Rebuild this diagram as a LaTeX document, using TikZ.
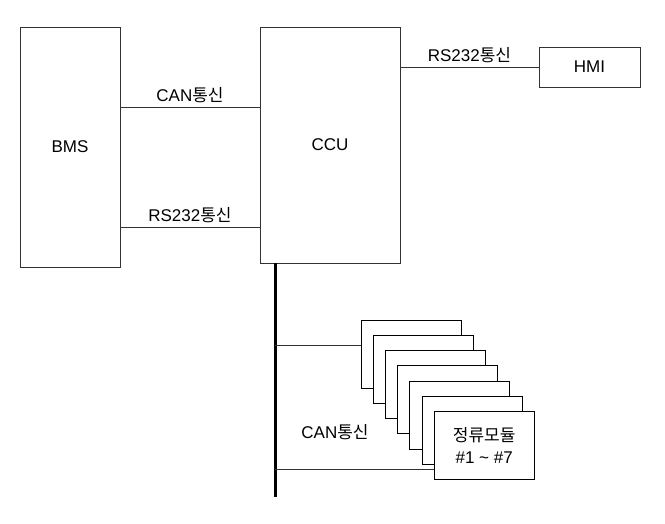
\documentclass[tikz,border=0pt]{standalone}
\usepackage{fontspec}
\setmainfont{Liberation Sans}
\newfontfamily\krfont{Noto Sans CJK KR}
\usetikzlibrary{positioning}

\begin{document}
\begin{tikzpicture}[
            x=1pt, y=-1pt,
            every node/.style={font=\fontsize{17}{22}\selectfont},
            box/.style={rectangle, draw=black!80, line width=0.8pt, align=center, inner sep=0pt, fill=white},
            modbox/.style={rectangle, draw=black, line width=0.9pt, minimum width=100pt, minimum height=68pt, inner sep=0pt, align=center, fill=white},
            link/.style={draw=black!80, line width=0.8pt},
            bus/.style={draw=black, line width=3pt},
            lbl/.style={inner sep=1pt, above=3pt}
        ]
            \useasboundingbox (0,0) rectangle (665,523);

            % --- BMS / CCU / HMI ---
            \node[box, minimum width=100pt, minimum height=240pt] (bms) at (70,147) {BMS};
            \node[box, minimum width=140pt, minimum height=236pt] (ccu) at (330,145) {CCU};
            \node[box, minimum width=101pt, minimum height=40pt] (hmi) at (589.5,67) {HMI};

            % Ligações BMS - CCU
            \draw[link] ([yshift=40pt]bms.east) -- node[lbl] (canA) {CAN{\krfont 통신}} ([yshift=40pt]bms.east -| ccu.west);
            \draw[link] ([yshift=-80pt]bms.east) -- node[lbl] (rsA) {RS232{\krfont 통신}} ([yshift=-80pt]bms.east -| ccu.west);

            % Ligação CCU - HMI
            \draw[link] (hmi.west -| ccu.east) -- node[lbl] (rsB) {RS232{\krfont 통신}} (hmi.west);

            % --- Barramento CAN ---
            \coordinate (bustop) at ([xshift=-55pt]ccu.south);
            \coordinate (busbot) at (275,497);
            \draw[bus] (bustop) -- (busbot);

            % --- Módulos (7 caixas empilhadas) ---
            \foreach \i in {1,...,7}
                \node[modbox] (m\i) at ({411+(\i-1)*12.2}, {354+(\i-1)*15.3}) {};
            \node[align=center] (modtxt) at (m7) {{\krfont 정류모듈}\\\#1 \textasciitilde{} \#7};

            % Ligações do barramento aos módulos
            \draw[link] ([yshift=9pt]m1.west -| bustop) -- ([yshift=9pt]m1.west);
            \draw[link] ([yshift=-24pt]m7.west -| bustop) -- ([yshift=-24pt]m7.west);
            \node (canB) at (335,432) {CAN{\krfont 통신}};

        \end{tikzpicture}
\end{document}
